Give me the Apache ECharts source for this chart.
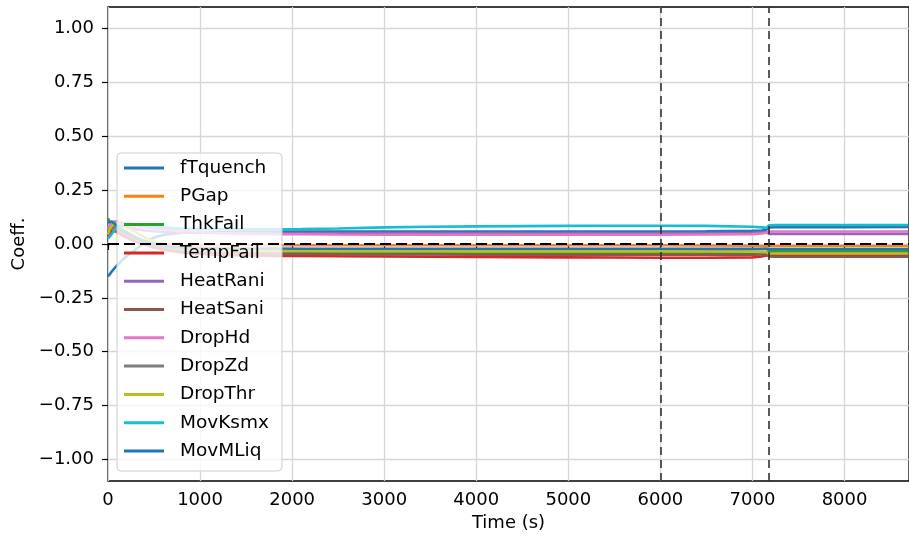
<!DOCTYPE html>
<html>
<head>
<meta charset="utf-8">
<script src="https://cdn.jsdelivr.net/npm/echarts@6/dist/echarts.min.js"></script>
<style>
  html, body { margin: 0; padding: 0; background: #fff; }
  #chart { width: 909px; height: 537px; }
</style>
</head>
<body>
<div id="chart"></div>
<script>
// Sample times (s)
const timeS = [0, 20, 40, 60, 80, 100, 130, 160, 200, 250, 300, 400, 500, 600, 800, 1000, 1200, 1500, 1800, 2100,
  2500, 3000, 3500, 4000, 4500, 5000, 5500, 6000, 6500, 7000, 7100, 7150, 7180, 7250, 7500, 8000, 8690];

// Coefficient histories
const fTquench = [-0.150, -0.140, -0.128, -0.118, -0.108, -0.098, -0.085, -0.072, -0.058, -0.042, -0.026, 0.008, 0.030, 0.042, 0.052, 0.055, 0.056, 0.057, 0.058, 0.058,
  0.058, 0.058, 0.058, 0.058, 0.058, 0.058, 0.058, 0.058, 0.059, 0.061, 0.063, 0.066, 0.077, 0.078, 0.078, 0.078, 0.079];
const PGap = [0.040, 0.058, 0.068, 0.074, 0.072, 0.068, 0.060, 0.052, 0.044, 0.035, 0.027, 0.015, 0.006, 0.000, -0.004, -0.005, -0.005, -0.006, -0.006, -0.006,
  -0.006, -0.006, -0.006, -0.006, -0.006, -0.006, -0.006, -0.006, -0.007, -0.008, -0.009, -0.011, -0.009, -0.009, -0.009, -0.009, -0.009];
const ThkFail = [0.120, 0.100, 0.088, 0.082, 0.077, 0.072, 0.064, 0.056, 0.046, 0.035, 0.025, 0.008, -0.006, -0.016, -0.028, -0.034, -0.037, -0.039, -0.040, -0.041,
  -0.041, -0.041, -0.042, -0.042, -0.042, -0.042, -0.042, -0.042, -0.042, -0.041, -0.039, -0.036, -0.032, -0.032, -0.032, -0.032, -0.032];
const TempFail = [0.030, 0.048, 0.058, 0.064, 0.060, 0.055, 0.047, 0.039, 0.030, 0.020, 0.011, -0.004, -0.016, -0.026, -0.039, -0.046, -0.050, -0.053, -0.055, -0.056,
  -0.057, -0.058, -0.059, -0.060, -0.061, -0.062, -0.063, -0.064, -0.064, -0.062, -0.058, -0.053, -0.051, -0.051, -0.051, -0.051, -0.051];
const HeatRani = [0.060, 0.078, 0.088, 0.094, 0.095, 0.092, 0.088, 0.083, 0.078, 0.073, 0.069, 0.063, 0.059, 0.056, 0.053, 0.052, 0.051, 0.051, 0.051, 0.051,
  0.051, 0.051, 0.051, 0.051, 0.051, 0.051, 0.051, 0.051, 0.051, 0.052, 0.054, 0.056, 0.047, 0.047, 0.047, 0.047, 0.047];
const HeatSani = [0.050, 0.064, 0.074, 0.080, 0.080, 0.076, 0.068, 0.060, 0.050, 0.038, 0.027, 0.009, -0.005, -0.016, -0.030, -0.037, -0.041, -0.044, -0.046, -0.047,
  -0.048, -0.049, -0.049, -0.050, -0.050, -0.050, -0.050, -0.050, -0.050, -0.050, -0.049, -0.047, -0.058, -0.059, -0.059, -0.059, -0.059];
const DropHd = [0.070, 0.090, 0.100, 0.105, 0.106, 0.104, 0.101, 0.098, 0.094, 0.089, 0.085, 0.078, 0.072, 0.067, 0.060, 0.055, 0.051, 0.048, 0.046, 0.045,
  0.044, 0.043, 0.043, 0.043, 0.043, 0.043, 0.043, 0.043, 0.044, 0.046, 0.049, 0.052, 0.058, 0.058, 0.058, 0.058, 0.058];
const DropZd = [0.060, 0.072, 0.080, 0.084, 0.082, 0.078, 0.072, 0.064, 0.055, 0.043, 0.032, 0.012, -0.003, -0.013, -0.024, -0.029, -0.031, -0.032, -0.033, -0.033,
  -0.033, -0.033, -0.033, -0.033, -0.033, -0.033, -0.033, -0.033, -0.034, -0.035, -0.036, -0.038, -0.043, -0.043, -0.043, -0.043, -0.043];
const DropThr = [0.045, 0.070, 0.085, 0.091, 0.094, 0.095, 0.093, 0.088, 0.080, 0.068, 0.055, 0.030, 0.010, -0.005, -0.022, -0.028, -0.030, -0.031, -0.032, -0.032,
  -0.033, -0.033, -0.033, -0.034, -0.034, -0.034, -0.034, -0.034, -0.035, -0.036, -0.037, -0.038, -0.044, -0.044, -0.044, -0.044, -0.044];
const MovKsmx = [0.025, 0.035, 0.046, 0.058, 0.068, 0.078, 0.088, 0.094, 0.096, 0.094, 0.091, 0.085, 0.080, 0.076, 0.072, 0.070, 0.069, 0.068, 0.068, 0.069,
  0.072, 0.077, 0.080, 0.082, 0.083, 0.084, 0.085, 0.085, 0.084, 0.080, 0.077, 0.075, 0.087, 0.088, 0.088, 0.088, 0.088];
const MovMLiq = [0.100, 0.108, 0.104, 0.098, 0.090, 0.083, 0.074, 0.065, 0.054, 0.042, 0.031, 0.012, -0.001, -0.009, -0.016, -0.019, -0.020, -0.021, -0.021, -0.022,
  -0.022, -0.022, -0.022, -0.022, -0.022, -0.022, -0.022, -0.022, -0.022, -0.022, -0.022, -0.022, -0.023, -0.023, -0.023, -0.023, -0.023];

const seriesNames = ['fTquench', 'PGap', 'ThkFail', 'TempFail', 'HeatRani', 'HeatSani', 'DropHd', 'DropZd', 'DropThr', 'MovKsmx', 'MovMLiq'];
const seriesValues = [fTquench, PGap, ThkFail, TempFail, HeatRani, HeatSani, DropHd, DropZd, DropThr, MovKsmx, MovMLiq];

// Axis ticks and reference lines
const xTicks = [0, 1000, 2000, 3000, 4000, 5000, 6000, 7000, 8000];
const yTicks = [-1.0, -0.75, -0.5, -0.25, 0.0, 0.25, 0.5, 0.75, 1.0];
const zeroLevel = [0];
const eventTimes = [6000, 7174];

const palette = ['#1f77b4', '#ff7f0e', '#2ca02c', '#d62728', '#9467bd', '#8c564b', '#e377c2', '#7f7f7f', '#bcbd22', '#17becf', '#1f77b4'];

const FONT = 'DejaVu Sans';

const series = seriesNames.map((name, i) => ({
  name: name,
  type: 'line',
  showSymbol: false,
  symbol: 'none',
  smooth: false,
  data: timeS.map((t, k) => [t, seriesValues[i][k]]),
  lineStyle: { width: 2.6, color: palette[i] },
  itemStyle: { color: palette[i] },
  emphasis: { disabled: true },
  z: 2 + i * 0.01
}));

// Reference lines: zero level and event times
series.push({
  name: '_ref',
  type: 'line',
  data: [],
  silent: true,
  z: 3,
  markLine: {
    silent: true,
    symbol: ['none', 'none'],
    label: { show: false },
    animation: false,
    data: [
      ...zeroLevel.map(v => ({ yAxis: v, lineStyle: { color: '#000', type: [11, 5], width: 2 } })),
      ...eventTimes.map(v => ({ xAxis: v, lineStyle: { color: '#333', type: [8, 5], width: 1.6 } }))
    ]
  }
});

const chart = echarts.init(document.getElementById('chart'), null, { renderer: 'canvas' });
chart.setOption({
  animation: false,
  color: palette,
  textStyle: { fontFamily: FONT },
  grid: {
    left: 108, right: 0, top: 7, bottom: 56,
    show: true, borderColor: '#000', borderWidth: 1.3, backgroundColor: 'transparent'
  },
  legend: {
    data: seriesNames,
    orient: 'vertical',
    left: 117, top: 153,
    icon: 'rect',
    itemWidth: 40, itemHeight: 3,
    itemGap: 8.3,
    padding: [5, 13, 10, 7],
    backgroundColor: 'rgba(255,255,255,0.8)',
    borderColor: '#cccccc', borderWidth: 1, borderRadius: 4,
    selectedMode: false,
    textStyle: { fontFamily: FONT, fontSize: 18.5, color: '#000', lineHeight: 20, padding: [0, 0, 0, 11] }
  },
  xAxis: {
    type: 'value',
    min: 0, max: 8700,
    name: 'Time (s)', nameLocation: 'middle', nameGap: 33,
    nameTextStyle: { fontFamily: FONT, fontSize: 18, color: '#000' },
    axisLine: { show: false },
    axisTick: { show: true, length: 6, lineStyle: { color: '#000', width: 1.2 }, customValues: xTicks },
    axisLabel: { fontFamily: FONT, fontSize: 18, color: '#000', margin: 10, customValues: xTicks, formatter: v => String(v) },
    splitLine: { show: true, lineStyle: { color: '#d6d6d6', width: 1.3 } }
  },
  yAxis: {
    type: 'value',
    min: -1.1, max: 1.1,
    name: 'Coeff.', nameLocation: 'middle', nameGap: 78,
    nameTextStyle: { fontFamily: FONT, fontSize: 18, color: '#000' },
    axisLine: { show: false },
    axisTick: { show: true, length: 6, lineStyle: { color: '#000', width: 1.2 }, customValues: yTicks },
    axisLabel: {
      fontFamily: FONT, fontSize: 18, color: '#000', margin: 14, customValues: yTicks,
      formatter: v => (v < -1e-9 ? '\u2212' : '') + Math.abs(v).toFixed(2)
    },
    splitLine: { show: true, lineStyle: { color: '#d6d6d6', width: 1.3 } }
  },
  series: series
});
</script>
</body>
</html>
